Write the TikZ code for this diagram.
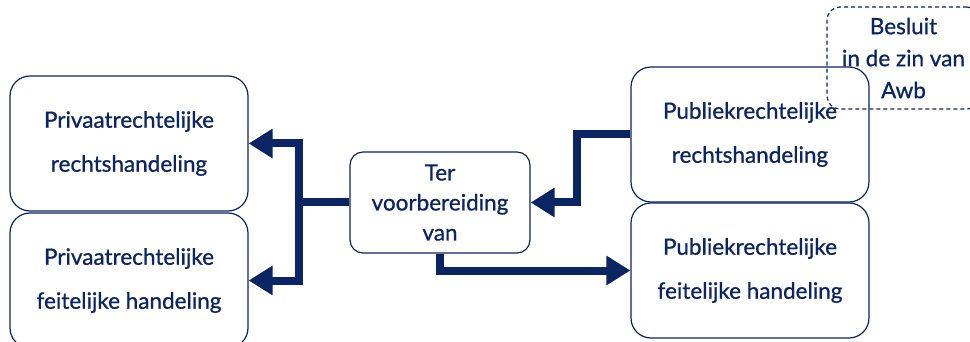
\documentclass[tikz,border=0pt]{standalone}
\usepackage{fontspec}
\setmainfont{Lato}[FakeBold=0.8]
\usetikzlibrary{arrows.meta}

\definecolor{navy}{RGB}{10,36,100}

\tikzset{
  big/.style = {draw=navy, line width=1.2pt, rounded corners=20pt,
                minimum width=238pt, minimum height=135pt, align=center,
                text=navy, font=\fontsize{22.5}{44}\selectfont},
  small/.style = {draw=navy, line width=1.2pt, rounded corners=13pt,
                minimum width=180pt, minimum height=101pt, align=center,
                text=navy, font=\fontsize{22.5}{30}\selectfont},
  awb/.style = {draw=navy, line width=1.2pt, dash pattern=on 4pt off 3pt,
                rounded corners=13pt, minimum width=153pt, minimum height=102pt,
                align=center, text=navy, font=\fontsize{22.5}{32}\selectfont},
  flow/.style = {draw=navy, line width=8pt,
                 -{Triangle[length=24pt,width=28pt]}}
}

\begin{document}
\begin{tikzpicture}[x=1pt, y=-1pt]
  \clip (0,0) rectangle (970,342);

  \node[big]   at (129, 143.5) (pl1) {Privaatrechtelijke\\rechtshandeling};
  \node[big]   at (129, 280.5) (pl2) {Privaatrechtelijke\\feitelijke handeling};
  \node[small] at (440, 202.5) (mid) {Ter\\voorbereiding\\van};
  \node[big]   at (750, 134.5) (pr1) {Publiekrechtelijke\\rechtshandeling};
  \node[big]   at (750, 270.5) (pr2) {Publiekrechtelijke\\feitelijke handeling};
  \node[awb]   at (903.5, 58)  (bsl) {Besluit\\in de zin van\\Awb};

  % pijlen
  \draw[flow] (mid.west) -- ++(-50,0) |- (pl1.east);
  \draw[flow] (mid.west) -- ++(-50,0) |- (pl2.east);
  \draw[flow] (pr1.west) -- ++(-53,0) |- (mid.east);
  \draw[flow] (mid.south) |- (pr2.west);
\end{tikzpicture}
\end{document}
